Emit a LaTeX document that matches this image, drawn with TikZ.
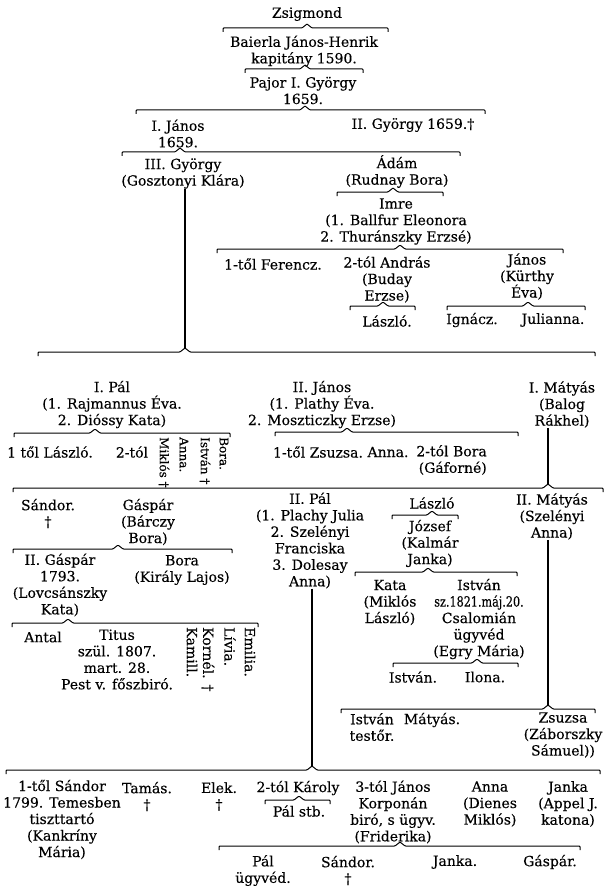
\documentclass[tikz,border=0pt]{standalone}
\usepackage{fontspec}
\setmainfont{DejaVu Serif}[FakeBold=0.3]
\tikzset{
  kin/.style={font=\fontsize{14}{16.5}\selectfont,align=center,inner sep=0pt},
  side/.style={kin,rotate=-90,anchor=west},
  small side/.style={side,font=\fontsize{12}{14}\selectfont},
  kin line/.style={line width=1pt,rounded corners=0.8pt},
  stem/.style={line width=1.2pt}
}
% sibling brace: name, left x, right x, y, x of the tip
\newcommand{\kinbrace}[5]{%
  \coordinate (#1) at (#5,#4);
  \draw[kin line]
    ({#2},{#4+4}) -- ({#2},{#4}) -- ({#5-5},{#4}) -- ({#5},{#4-4})
    -- ({#5+5},{#4}) -- ({#3},{#4}) -- ({#3},{#4+4});%
}

\begin{document}
\begin{tikzpicture}[x=1pt,y=-1pt]
  \useasboundingbox (0,0) rectangle (608,896);

  % first generations
  \node[kin] (zsig) at (307,14) {Zsigmond};
  \kinbrace{b1}{223}{388}{28}{307}
  \node[kin] (baierla) at (304,51) {Baierla János-Henrik\\kapitány 1590.};
  \kinbrace{b2}{245}{363}{69}{305}
  \node[kin] (pajor) at (303,90.5) {Pajor I. György\\1659.};
  \kinbrace{b3}{136}{485}{110}{305}
  \node[kin] (janos1) at (178,133.5) {I. János\\1659.};
  \node[kin] (gyorgy2) at (413,125) {II. György 1659.†};
  \kinbrace{b4}{122}{460}{152}{180}
  \node[kin] (gyorgy3) at (183,173.5) {III. György\\(Gosztonyi Klára)};
  \node[kin] (adam) at (397,171.5) {Ádám\\(Rudnay Bora)};
  \kinbrace{b5}{337}{443}{192}{393}
  \node[kin] (imre) at (396,221.5) {Imre\\(1. Ballfur Eleonora\\2. Thuránszky Erzsé)};
  \kinbrace{b6}{217}{563}{249}{400}
  \node[kin] (ferencz) at (273,264) {1-től Ferencz.};
  \node[kin] (andras) at (387,279.5) {2-tól András\\(Buday\\Erzse)};
  \node[kin] (janosk) at (527,276.5) {János\\(Kürthy\\Éva)};
  \kinbrace{b7}{350}{415}{306}{383}
  \kinbrace{b8}{447}{585}{306}{528}
  \node[kin] (laszlo1) at (387,321) {László.};
  \node[kin] (ignacz) at (472,320) {Ignácz.};
  \node[kin] (julianna) at (553,320) {Julianna.};

  % III. György
  \kinbrace{b9}{38}{595}{352}{185}
  \draw[stem] (b9 |- gyorgy3.south) -- ([yshift=4pt]b9);
  \node[kin] (pal1) at (112,404.5) {I. Pál\\(1. Rajmannus Éva.\\2. Dióssy Kata)};
  \node[kin] (janos2) at (322,404.5) {II. János\\(1. Plathy Éva.\\2. Moszticzky Erzse)};
  \node[kin] (matyas1) at (562,404.5) {I. Mátyás\\(Balog\\Rákhel)};
  \kinbrace{b10}{14}{230}{433}{95}
  \node[kin] (laszlo2) at (50,452) {1 től László.};
  \node[kin] (tol2) at (132,452) {2-tól};
  \node[small side] (miklos) at (164,437) {Miklós †};
  \node[small side] (anna1) at (184,437) {Anna.};
  \node[small side] (istvan1) at (205,437) {István †};
  \node[small side] (bora1) at (224,437) {Bora.};
  \kinbrace{b11}{275}{518}{432}{347}
  \node[kin] (zsuzsa1) at (318,452) {1-től Zsuzsa.};
  \node[kin] (anna2) at (388,452) {Anna.};
  \node[kin,align=right,anchor=east] (bora2) at (487,460) {2-tól Bora\\(Gáforné)};

  % I. Mátyás
  \kinbrace{b12}{13}{603}{488}{548}
  \draw[stem] (b12 |- matyas1.south) -- ([yshift=4pt]b12);
  \node[kin] (sandor1) at (48,513.5) {Sándor.\\†};
  \node[kin] (gaspar1) at (148,522) {Gáspár\\(Bárczy\\Bora)};
  \node[kin] (pal2) at (310,540.5) {II. Pál\\(1. Plachy Julia\\2. Szelényi\\Franciska\\3. Dolesay\\Anna)};
  \node[kin] (laszlo3) at (432,503) {László};
  \kinbrace{b13}{392}{458}{515}{432}
  \node[kin] (jozsef) at (430,543.5) {József\\(Kalmár\\Janka)};
  \kinbrace{b14}{355}{517}{572}{428}
  \node[kin] (kata1) at (390,602.5) {Kata\\(Miklós\\László)};
  \node[kin] (istvan2) at (479,619) {István\\\scalebox{0.8}[1]{sz.1821.máj.20.}\\Csalomián\\ügyvéd\\(Egry Mária)};
  \kinbrace{b15}{393}{518}{663}{477}
  \node[kin] (istvan3) at (413,677) {István.};
  \node[kin] (ilona) at (485,677) {Ilona.};
  \node[kin] (matyas2) at (552,516.5) {II. Mátyás\\(Szelényi\\Anna)};

  % Gáspár
  \kinbrace{b17}{13}{232}{549}{118}
  \node[kin] (gaspar2) at (60,585) {II. Gáspár\\1793.\\(Lovcsánszky\\Kata)};
  \node[kin] (bora3) at (182,570) {Bora\\(Király Lajos)};
  \kinbrace{b18}{12}{258}{623}{68}
  \node[kin] (antal) at (43,637) {Antal};
  \node[kin] (titus) at (117,659.5) {Titus\\szül. 1807.\\mart. 28.\\Pest v. főszbiró.};
  \node[side] (kamill) at (192,627) {Kamill.};
  \node[side] (kornel) at (208,627) {Kornél. †};
  \node[side] (livia) at (230,627) {Lívia.};
  \node[side] (emilia) at (250,627) {Emilia.};

  % II. Mátyás
  \kinbrace{b16}{341}{595}{709}{548}
  \draw[stem] (b16 |- matyas2.south) -- ([yshift=4pt]b16);
  \node[kin] (istvan4) at (372,727) {István\\testőr.};
  \node[kin] (matyas3) at (432,720) {Mátyás.};
  \node[kin] (zsuzsa2) at (563,735) {Zsuzsa\\(Záborszky\\Sámuel))};

  % II. Pál
  \kinbrace{b19}{6}{600}{770}{312}
  \draw[stem] (b19 |- pal2.south) -- ([yshift=4pt]b19);
  \node[kin] (sandor2) at (62,819.5) {1-től Sándor\\1799. Temesben\\tiszttartó\\(Kankríny\\Mária)};
  \node[kin] (tamas) at (147,796.5) {Tamás.\\†};
  \node[kin] (elek) at (219,796.5) {Elek.\\†};
  \node[kin] (karoly) at (298,788) {2-tól Károly};
  \kinbrace{b20}{265}{330}{800}{299}
  \node[kin] (palstb) at (299,811) {Pál stb.};
  \node[kin] (janos3) at (393,812) {3-tól János\\Korponán\\biró, s ügyv.\\(Friderika)};
  \node[kin] (anna3) at (490,804) {Anna\\(Dienes\\Miklós)};
  \node[kin] (janka1) at (568,804) {Janka\\(Appel J.\\katona)};
  \kinbrace{b21}{219}{580}{846}{400}
  \node[kin] (pal3) at (263,870.5) {Pál\\ügyvéd.};
  \node[kin] (sandor3) at (348,870.5) {Sándor.\\†};
  \node[kin] (janka2) at (455,862) {Janka.};
  \node[kin] (gaspar3) at (550,862) {Gáspár.};
\end{tikzpicture}
\end{document}
